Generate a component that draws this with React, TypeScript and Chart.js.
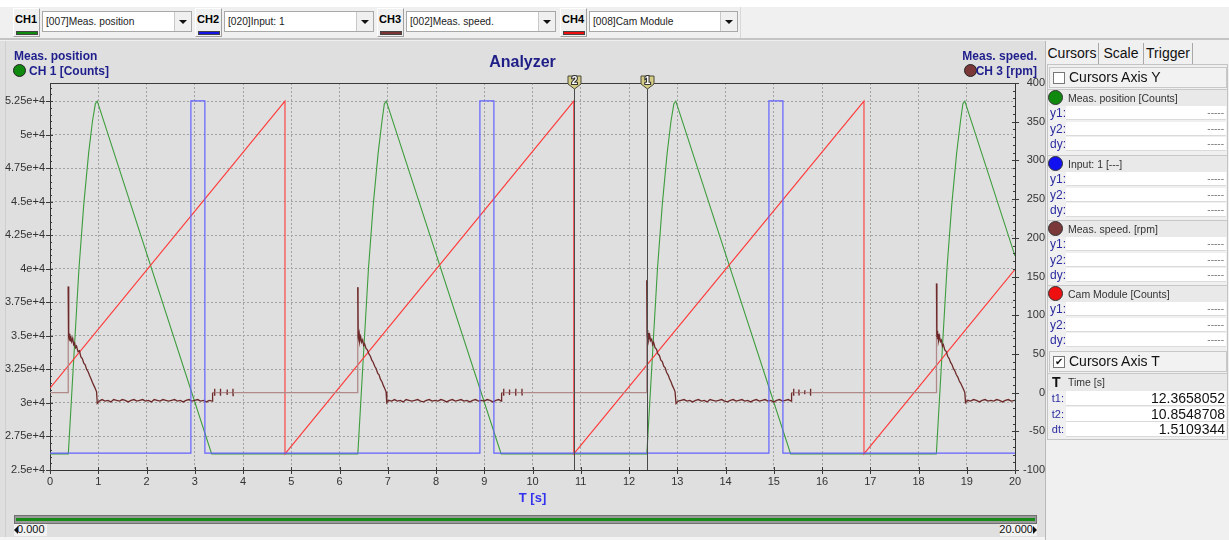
import React, { useEffect, useRef } from 'react';
import { Chart, registerables } from 'chart.js';
Chart.register(...registerables);

const FONT = '"Liberation Sans", Arial, Helvetica, sans-serif';

// ---------- axes / ticks ----------
const xTicks = [0, 1, 2, 3, 4, 5, 6, 7, 8, 9, 10, 11, 12, 13, 14, 15, 16, 17, 18, 19, 20];
const xTickLabels = ['0', '1', '2', '3', '4', '5', '6', '7', '8', '9', '10', '11', '12', '13', '14', '15', '16', '17', '18', '19', '20'];
const leftTicks = [25000, 27500, 30000, 32500, 35000, 37500, 40000, 42500, 45000, 47500, 50000, 52500];
const leftTickLabels = ['2.5e+4', '2.75e+4', '3e+4', '3.25e+4', '3.5e+4', '3.75e+4', '4e+4', '4.25e+4', '4.5e+4', '4.75e+4', '5e+4', '5.25e+4'];
const rightTicks = [-100, -50, 0, 50, 100, 150, 200, 250, 300, 350, 400];
const rightTickLabels = ['-100', '-50', '0', '50', '100', '150', '200', '250', '300', '350', '400'];
const leftRange = [25000, 53850];
const rightRange = [-100, 400];
const inputRange = [-0.048, 1.051];

// ---------- CH1 Meas. position [Counts] ----------
const positionPoints: [number, number][] = [
  [0, 26200], [0.38, 26200], [0.5, 33800], [0.6, 40000], [0.7, 44800], [0.8, 48600], [0.88, 51000], [0.94, 52300], [0.98, 52500], [3.35, 26200],
  [6.38, 26200], [6.5, 33800], [6.6, 40000], [6.7, 44800], [6.8, 48600], [6.88, 51000], [6.93, 52300], [6.97, 52500], [9.35, 26200],
  [12.37, 26200], [12.49, 33800], [12.59, 40000], [12.69, 44800], [12.79, 48600], [12.87, 51000], [12.93, 52300], [12.97, 52500], [15.35, 26200],
  [18.37, 26200], [18.49, 33800], [18.59, 40000], [18.69, 44800], [18.79, 48600], [18.87, 51000], [18.92, 52300], [18.96, 52500], [20, 40960],
];

// ---------- CH2 Input: 1 [---] ----------
const inputPoints: [number, number][] = [
  [0, 0], [2.92, 0], [2.92, 1], [3.21, 1], [3.21, 0],
  [8.91, 0], [8.91, 1], [9.2, 1], [9.2, 0],
  [14.9, 0], [14.9, 1], [15.19, 1], [15.19, 0], [20, 0],
];

// ---------- CH3 Meas. speed [rpm] ----------
const speedCycle1: [number, number][] = [
  [0, 0], [0.375, 0], [0.378, 137], [0.383, 112], [0.387, 70], [0.393, 79], [0.4, 68], [0.41, 76], [0.42, 67], [0.43, 73], [0.45, 66], [0.47, 70], [0.49, 62], [0.51, 64], [0.53, 58], [0.55, 60], [0.58, 53], [0.61, 54], [0.64, 46], [0.67, 44], [0.7, 38], [0.73, 36], [0.76, 30], [0.79, 27], [0.82, 22], [0.85, 18], [0.88, 13], [0.91, 9], [0.94, 5], [0.965, 1], [0.98, -14],
  [1.02, -11], [1.08, -9], [1.14, -11], [1.2, -10], [1.26, -12], [1.32, -9], [1.38, -10], [1.44, -11], [1.5, -9], [1.56, -10], [1.62, -12], [1.68, -10], [1.74, -9], [1.8, -11], [1.86, -10], [1.92, -9], [1.98, -11], [2.04, -10], [2.1, -12], [2.16, -9], [2.22, -10], [2.28, -11], [2.34, -9], [2.4, -10], [2.46, -11], [2.52, -10], [2.58, -9], [2.64, -11], [2.7, -10], [2.76, -12], [2.82, -10], [2.88, -9], [2.94, -11], [3.0, -10], [3.06, -9], [3.12, -11], [3.18, -10], [3.24, -12], [3.3, -10], [3.36, -11],
  [3.37, 0], [3.41, 0], [3.412, 5], [3.414, -4], [3.416, 0], [3.53, 0], [3.532, 5], [3.534, -4], [3.536, 0], [3.67, 0], [3.672, 4], [3.674, -3], [3.676, 0], [3.79, 0], [3.792, 5], [3.794, -4], [3.796, 0],
];
const speedCycle2: [number, number][] = [
  [6.375, 0], [6.378, 136], [6.383, 108], [6.388, 71], [6.394, 80], [6.4, 69], [6.41, 75], [6.42, 66], [6.44, 72], [6.46, 65], [6.48, 68], [6.5, 61], [6.52, 63], [6.55, 57], [6.58, 55], [6.61, 50], [6.64, 47], [6.67, 42], [6.7, 39], [6.73, 34], [6.76, 31], [6.79, 25], [6.82, 23], [6.85, 17], [6.88, 14], [6.91, 9], [6.94, 5], [6.965, 1], [6.98, -13],
  [7.02, -10], [7.08, -11], [7.14, -9], [7.2, -11], [7.26, -10], [7.32, -12], [7.38, -9], [7.44, -10], [7.5, -11], [7.56, -10], [7.62, -9], [7.68, -11], [7.74, -12], [7.8, -10], [7.86, -9], [7.92, -11], [7.98, -10], [8.04, -11], [8.1, -9], [8.16, -10], [8.22, -12], [8.28, -10], [8.34, -9], [8.4, -11], [8.46, -10], [8.52, -9], [8.58, -11], [8.64, -10], [8.7, -12], [8.76, -10], [8.82, -9], [8.88, -11], [8.94, -10], [9.0, -11], [9.06, -9], [9.12, -10], [9.18, -12], [9.24, -10], [9.3, -9], [9.35, -11],
  [9.36, 0], [9.4, 0], [9.402, 5], [9.404, -4], [9.406, 0], [9.52, 0], [9.522, 4], [9.524, -3], [9.526, 0], [9.65, 0], [9.652, 5], [9.654, -4], [9.656, 0], [9.78, 0], [9.782, 5], [9.784, -3], [9.786, 0],
];
const speedCycle3: [number, number][] = [
  [12.365, 0], [12.368, 145], [12.373, 115], [12.378, 73], [12.384, 81], [12.39, 70], [12.4, 77], [12.41, 68], [12.43, 74], [12.45, 67], [12.47, 69], [12.49, 62], [12.51, 65], [12.54, 58], [12.57, 56], [12.6, 50], [12.63, 48], [12.66, 42], [12.69, 40], [12.72, 34], [12.75, 32], [12.78, 26], [12.81, 23], [12.84, 18], [12.87, 14], [12.9, 9], [12.93, 5], [12.955, 1], [12.975, -14],
  [13.02, -11], [13.08, -10], [13.14, -9], [13.2, -11], [13.26, -10], [13.32, -12], [13.38, -10], [13.44, -9], [13.5, -11], [13.56, -10], [13.62, -12], [13.68, -9], [13.74, -10], [13.8, -11], [13.86, -10], [13.92, -9], [13.98, -11], [14.04, -12], [14.1, -10], [14.16, -9], [14.22, -11], [14.28, -10], [14.34, -9], [14.4, -11], [14.46, -10], [14.52, -12], [14.58, -10], [14.64, -9], [14.7, -11], [14.76, -10], [14.82, -9], [14.88, -11], [14.94, -10], [15.0, -12], [15.06, -10], [15.12, -9], [15.18, -11], [15.24, -10], [15.3, -9], [15.36, -11],
  [15.37, 0], [15.41, 0], [15.412, 5], [15.414, -4], [15.416, 0], [15.52, 0], [15.522, 4], [15.524, -3], [15.526, 0], [15.64, 0], [15.642, 3], [15.644, -2], [15.646, 0], [15.76, 0], [15.762, 5], [15.764, -4], [15.766, 0],
];
const speedCycle4: [number, number][] = [
  [18.37, 0], [18.373, 141], [18.378, 113], [18.383, 72], [18.389, 80], [18.395, 69], [18.405, 76], [18.415, 67], [18.435, 73], [18.455, 66], [18.475, 68], [18.495, 60], [18.515, 62], [18.545, 55], [18.575, 53], [18.605, 47], [18.635, 44], [18.665, 39], [18.695, 36], [18.725, 31], [18.755, 28], [18.785, 23], [18.815, 20], [18.845, 15], [18.875, 12], [18.905, 8], [18.935, 4], [18.96, 0], [18.975, -13],
  [19.02, -10], [19.08, -11], [19.14, -9], [19.2, -10], [19.26, -12], [19.32, -10], [19.38, -9], [19.44, -11], [19.5, -10], [19.56, -11], [19.62, -9], [19.68, -10], [19.74, -12], [19.8, -10], [19.86, -9], [19.92, -11], [20, -10],
];

// ---------- CH4 Cam Module [Counts] ----------
const camPoints: [number, number][] = [
  [0, 31100], [4.87, 52500], [4.87, 26200], [10.855, 52500], [10.855, 26200], [16.87, 52500], [16.87, 26200], [20, 39950],
];

// ---------- cursors ----------
const cursorT1 = 12.3658052;
const cursorT2 = 10.8548708;
const cursorDt = 1.5109344;

const COLORS = {
  green: '#3d9d3d',
  blue: '#6262ff',
  brown: '#6e2a2a',
  brownLight: '#b08a8a',
  red: '#ff3a3a',
  bg: '#dfdfdf',
};

const toXY = (pts: [number, number][]) => pts.map(([x, y]) => ({ x, y }));

const decorPlugin = {
  id: 'analyzerDecor',
  afterDraw(chart: any) {
    const { ctx, chartArea: a, scales } = chart;
    const sx = scales.x;
    const sl = scales.yLeft;
    const sr = scales.yRight;
    const line = (x1: number, y1: number, x2: number, y2: number) => {
      ctx.beginPath();
      ctx.moveTo(x1, y1);
      ctx.lineTo(x2, y2);
      ctx.stroke();
    };
    ctx.save();
    ctx.lineWidth = 1;
    ctx.strokeStyle = '#3a3a3a';
    line(a.left, Math.round(a.top) + 0.5, a.right, Math.round(a.top) + 0.5);
    leftTicks.forEach((v) => {
      const y = Math.round(sl.getPixelForValue(v)) + 0.5;
      line(a.left - 4, y, a.left + 3, y);
    });
    for (let v = leftRange[0]; v <= leftRange[1]; v += 500) {
      if (v % 2500 === 0) continue;
      const y = Math.round(sl.getPixelForValue(v)) + 0.5;
      line(a.left, y, a.left + 2, y);
    }
    rightTicks.forEach((v) => {
      const y = Math.round(sr.getPixelForValue(v)) + 0.5;
      line(a.right - 3, y, a.right + 4, y);
    });
    for (let v = rightRange[0]; v <= rightRange[1]; v += 10) {
      if (v % 50 === 0) continue;
      const y = Math.round(sr.getPixelForValue(v)) + 0.5;
      line(a.right - 2, y, a.right, y);
    }
    xTicks.forEach((v) => {
      const x = Math.round(sx.getPixelForValue(v)) + 0.5;
      line(x, a.bottom - 3, x, a.bottom + 4);
    });
    const cursors: [number, string][] = [[cursorT2, '2'], [cursorT1, '1']];
    cursors.forEach(([t, lab]) => {
      const x = Math.round(sx.getPixelForValue(t)) + 0.5;
      ctx.strokeStyle = '#4a4a4a';
      line(x, a.top, x, a.bottom);
      const top = a.top - 7;
      ctx.beginPath();
      ctx.moveTo(x - 6.5, top);
      ctx.lineTo(x + 6.5, top);
      ctx.lineTo(x + 6.5, top + 8);
      ctx.lineTo(x, top + 13);
      ctx.lineTo(x - 6.5, top + 8);
      ctx.closePath();
      ctx.fillStyle = '#d4cc84';
      ctx.fill();
      ctx.strokeStyle = '#4a4a3a';
      ctx.stroke();
      ctx.font = `bold 10px ${FONT}`;
      ctx.textAlign = 'center';
      ctx.textBaseline = 'middle';
      ctx.lineWidth = 2.2;
      ctx.strokeStyle = '#333';
      ctx.strokeText(lab, x, top + 5.5);
      ctx.fillStyle = '#ffffff';
      ctx.fillText(lab, x, top + 5.5);
      ctx.lineWidth = 1;
    });
    ctx.restore();
  },
};

function ChannelSelect(props: { left: number; label: string; color: string; comboLeft: number; comboWidth: number; text: string }) {
  const { left, label, color, comboLeft, comboWidth, text } = props;
  return (
    <>
      <div style={{ position: 'absolute', left, top: 8, width: 27, height: 29, boxSizing: 'border-box', borderTop: '1px solid #ffffff', borderLeft: '1px solid #ffffff', borderRight: '1px solid #a0a0a0', borderBottom: '1px solid #a0a0a0', background: '#f0f0f0' }}>
        <div style={{ position: 'absolute', left: 1, top: 4, fontSize: 11, fontWeight: 'bold', color: '#000', lineHeight: '13px' }}>{label}</div>
        <div style={{ position: 'absolute', left: 2, top: 22, width: 22, height: 4, boxSizing: 'border-box', background: color, border: '1px solid #444' }} />
      </div>
      <div style={{ position: 'absolute', left: comboLeft, top: 11, width: comboWidth, height: 21, boxSizing: 'border-box', background: '#fff', border: '1px solid #a8a8a8' }}>
        <div style={{ position: 'absolute', left: 3, top: 0, fontSize: 10.2, lineHeight: '19px', color: '#222', whiteSpace: 'nowrap' }}>{text}</div>
        <div style={{ position: 'absolute', right: 0, top: 0, width: 17, height: 19, boxSizing: 'border-box', background: '#f0f0f0', borderLeft: '1px solid #c8c8c8' }}>
          <div style={{ position: 'absolute', left: 4, top: 8, width: 0, height: 0, borderLeft: '4px solid transparent', borderRight: '4px solid transparent', borderTop: '4px solid #111' }} />
        </div>
      </div>
    </>
  );
}

function ChannelGroup(props: { top: number; color: string; title: string }) {
  const { top, color, title } = props;
  const rows = ['y1:', 'y2:', 'dy:'];
  return (
    <>
      <div style={{ position: 'absolute', left: 1048, top, width: 179, height: 16, background: '#e9e9e9', borderTop: '1px solid #c8c8c8' }}>
        <div style={{ position: 'absolute', left: 0, top: 0, width: 15, height: 15, borderRadius: '50%', background: color, border: '1px solid #333', boxSizing: 'border-box' }} />
        <div style={{ position: 'absolute', left: 20, top: 1, fontSize: 10.5, lineHeight: '14px', color: '#333', whiteSpace: 'nowrap' }}>{title}</div>
      </div>
      {rows.map((r, i) => (
        <React.Fragment key={r}>
          <div style={{ position: 'absolute', left: 1050, top: top + 17 + i * 15.5, fontSize: 12, lineHeight: '15px', color: '#2b2ba0' }}>{r}</div>
          <div style={{ position: 'absolute', left: 1066, top: top + 17 + i * 15.5, width: 160, height: 14, background: '#fff', borderBottom: '1px solid #dadada', boxSizing: 'border-box' }}>
            <div style={{ position: 'absolute', right: 2, top: 0, fontSize: 10, lineHeight: '13px', color: '#777' }}>-----</div>
          </div>
        </React.Fragment>
      ))}
    </>
  );
}

export default function App() {
  const ref = useRef<HTMLCanvasElement>(null);

  useEffect(() => {
    if (!ref.current) return;
    const tickFont = { family: FONT, size: 11 };
    const chart = new Chart(ref.current, {
      type: 'line',
      data: {
        datasets: [
          {
            label: 'Input: 1',
            data: toXY(inputPoints),
            yAxisID: 'yInput',
            borderColor: COLORS.blue,
            borderWidth: 1.2,
            pointRadius: 0,
            order: 0,
          },
          {
            label: 'Meas. speed.',
            data: toXY([...speedCycle1, ...speedCycle2, ...speedCycle3, ...speedCycle4]),
            yAxisID: 'yRight',
            borderColor: COLORS.brown,
            borderWidth: 1.3,
            pointRadius: 0,
            order: 1,
            segment: {
              borderColor: (c: any) =>
                c.p0.parsed.y === 0 && (c.p1.parsed.y === 0 || c.p1.parsed.y > 100) ? COLORS.brownLight : COLORS.brown,
            },
          } as any,
          {
            label: 'Cam Module',
            data: toXY(camPoints),
            yAxisID: 'yLeft',
            borderColor: COLORS.red,
            borderWidth: 1.1,
            pointRadius: 0,
            order: 2,
          },
          {
            label: 'Meas. position',
            data: toXY(positionPoints),
            yAxisID: 'yLeft',
            borderColor: COLORS.green,
            borderWidth: 1.1,
            pointRadius: 0,
            order: 3,
          },
        ],
      },
      options: {
        animation: false,
        responsive: false,
        devicePixelRatio: 1,
        events: [],
        layout: { padding: 0 },
        plugins: {
          legend: { display: false },
          tooltip: { enabled: false },
          title: {
            display: true,
            text: 'Analyzer',
            color: '#1e1e86',
            font: { family: FONT, size: 16, weight: 'bold', lineHeight: 1.2 },
            padding: { top: 12.4, bottom: 10.4 },
          },
        },
        scales: {
          x: {
            type: 'linear',
            min: xTicks[0],
            max: xTicks[xTicks.length - 1],
            afterBuildTicks: (s: any) => { s.ticks = xTicks.map((v) => ({ value: v })); },
            afterFit: (s: any) => { s.height = 40; },
            ticks: {
              font: tickFont,
              color: '#333',
              padding: 5,
              maxRotation: 0,
              autoSkip: false,
              callback: (v: any) => { const i = xTicks.indexOf(Number(v)); return i >= 0 ? xTickLabels[i] : ''; },
            },
            grid: { color: '#a2a2a2', lineWidth: 1, drawTicks: false },
            border: { display: true, color: '#333', width: 1, dash: [2, 2] },
            title: {
              display: true,
              text: 'T [s]',
              color: '#3333ee',
              font: { family: FONT, size: 13, weight: 'bold', lineHeight: 1.2 },
              padding: { top: 0, bottom: 4 },
            },
          },
          yLeft: {
            type: 'linear',
            position: 'left',
            min: leftRange[0],
            max: leftRange[1],
            afterBuildTicks: (s: any) => { s.ticks = leftTicks.map((v) => ({ value: v })); },
            afterFit: (s: any) => { s.width = 50; },
            ticks: {
              font: tickFont,
              color: '#333',
              padding: 5,
              crossAlign: 'near',
              callback: (v: any) => { const i = leftTicks.indexOf(Number(v)); return i >= 0 ? leftTickLabels[i] : ''; },
            },
            grid: { color: '#a2a2a2', lineWidth: 1, drawTicks: false },
            border: { display: true, color: '#333', width: 1, dash: [2, 2] },
          },
          yRight: {
            type: 'linear',
            position: 'right',
            min: rightRange[0],
            max: rightRange[1],
            afterBuildTicks: (s: any) => { s.ticks = rightTicks.map((v) => ({ value: v })); },
            afterFit: (s: any) => { s.width = 30; },
            ticks: {
              font: tickFont,
              color: '#333',
              padding: 4,
              crossAlign: 'far',
              callback: (v: any) => { const i = rightTicks.indexOf(Number(v)); return i >= 0 ? rightTickLabels[i] : ''; },
            },
            grid: { drawOnChartArea: false, drawTicks: false },
            border: { display: true, color: '#333', width: 1 },
          },
          yInput: {
            type: 'linear',
            display: false,
            min: inputRange[0],
            max: inputRange[1],
          },
        },
      } as any,
      plugins: [decorPlugin],
    });
    return () => chart.destroy();
  }, []);

  const tabStyle = (left: number, width: number): React.CSSProperties => ({
    position: 'absolute', left, top: 43, width, height: 21, boxSizing: 'border-box', borderRight: '1px solid #a8a8a8', fontSize: 14, lineHeight: '20px', color: '#111', textAlign: 'center',
  });

  return (
    <div style={{ position: 'absolute', left: 0, top: 0, width: 1229, height: 540, overflow: 'hidden', background: COLORS.bg, fontFamily: FONT }}>
      <div style={{ position: 'absolute', left: 0, top: 0, width: 1229, height: 7, background: '#ffffff' }} />
      <div style={{ position: 'absolute', left: 0, top: 7, width: 1229, height: 31, background: '#f0f0f0' }} />
      <div style={{ position: 'absolute', left: 740, top: 7, width: 1, height: 31, background: '#d8d8d8' }} />
      <div style={{ position: 'absolute', left: 0, top: 38, width: 1229, height: 2, background: '#c4c4c4' }} />
      <div style={{ position: 'absolute', left: 0, top: 40, width: 1229, height: 1, background: '#efefef' }} />
      <ChannelSelect left={13} label="CH1" color="#0f8a0f" comboLeft={42} comboWidth={150} text="[007]Meas. position" />
      <ChannelSelect left={195} label="CH2" color="#1414e6" comboLeft={224} comboWidth={150} text="[020]Input: 1" />
      <ChannelSelect left={377} label="CH3" color="#7a3434" comboLeft={406} comboWidth={150} text="[002]Meas. speed." />
      <ChannelSelect left={560} label="CH4" color="#ee1010" comboLeft={589} comboWidth={149} text="[008]Cam Module" />

      <div style={{ position: 'absolute', left: 5, top: 41, width: 1, height: 496, background: '#cfcfcf' }} />

      <canvas ref={ref} width={1045} height={469} style={{ position: 'absolute', left: 0, top: 41, width: 1045, height: 469 }} />

      <div style={{ position: 'absolute', left: 14, top: 49, fontSize: 12, fontWeight: 'bold', color: '#1e1e8c', lineHeight: '14px', whiteSpace: 'nowrap' }}>Meas. position</div>
      <div style={{ position: 'absolute', left: 13, top: 64, width: 13, height: 13, borderRadius: '50%', background: '#0f8a0f', border: '1px solid #222', boxSizing: 'border-box' }} />
      <div style={{ position: 'absolute', left: 29, top: 64, fontSize: 12, fontWeight: 'bold', color: '#1e1e8c', lineHeight: '14px', whiteSpace: 'nowrap' }}>CH 1 [Counts]</div>
      <div style={{ position: 'absolute', right: 1229 - 1037, top: 49, fontSize: 12, fontWeight: 'bold', color: '#1e1e8c', lineHeight: '14px', whiteSpace: 'nowrap', textAlign: 'right' }}>Meas. speed.</div>
      <div style={{ position: 'absolute', left: 964, top: 64, width: 13, height: 13, borderRadius: '50%', background: '#7a3838', border: '1px solid #222', boxSizing: 'border-box' }} />
      <div style={{ position: 'absolute', right: 1229 - 1037, top: 64, fontSize: 12, fontWeight: 'bold', color: '#1e1e8c', lineHeight: '14px', whiteSpace: 'nowrap', textAlign: 'right' }}>CH 3 [rpm]</div>

      <div style={{ position: 'absolute', left: 14, top: 515, width: 1023, height: 9, boxSizing: 'border-box', background: '#9a9a9a', border: '1px solid #707070' }}>
        <div style={{ position: 'absolute', left: 1, top: 2, right: 1, height: 3, background: '#178a17' }} />
      </div>
      <div style={{ position: 'absolute', left: 14, top: 524, width: 33, height: 12, background: '#f2f2f2' }} />
      <div style={{ position: 'absolute', left: 14, top: 526, width: 0, height: 0, borderTop: '4px solid transparent', borderBottom: '4px solid transparent', borderRight: '4px solid #111' }} />
      <div style={{ position: 'absolute', left: 17, top: 523, fontSize: 11, lineHeight: '13px', color: '#111' }}>0.000</div>
      <div style={{ position: 'absolute', left: 1000, top: 524, width: 37, height: 12, background: '#f2f2f2' }} />
      <div style={{ position: 'absolute', right: 1229 - 1033, top: 523, fontSize: 11, lineHeight: '13px', color: '#111' }}>20.000</div>
      <div style={{ position: 'absolute', left: 1033, top: 526, width: 0, height: 0, borderTop: '4px solid transparent', borderBottom: '4px solid transparent', borderLeft: '4px solid #111' }} />
      <div style={{ position: 'absolute', left: 0, top: 537, width: 1045, height: 3, background: '#f4f4f4' }} />

      <div style={{ position: 'absolute', left: 1045, top: 41, width: 184, height: 499, background: '#f0f0f0', borderLeft: '1px solid #b8b8b8', boxSizing: 'border-box' }} />
      <div style={tabStyle(1046, 53)}>Cursors</div>
      <div style={tabStyle(1099, 45)}>Scale</div>
      <div style={tabStyle(1144, 49)}>Trigger</div>
      <div style={{ position: 'absolute', left: 1047, top: 64, width: 181, height: 376, boxSizing: 'border-box', border: '1px solid #c4c4c4', background: '#f0f0f0' }} />

      <div style={{ position: 'absolute', left: 1049, top: 67, width: 178, height: 21, boxSizing: 'border-box', border: '1px solid #c8c8c8', background: '#f2f2f2' }}>
        <div style={{ position: 'absolute', left: 3, top: 4, width: 12, height: 12, boxSizing: 'border-box', background: '#fff', border: '1px solid #777' }} />
        <div style={{ position: 'absolute', left: 19, top: 1, fontSize: 14, lineHeight: '17px', color: '#111', whiteSpace: 'nowrap' }}>Cursors Axis Y</div>
      </div>

      <ChannelGroup top={89} color="#0f8a0f" title="Meas. position [Counts]" />
      <ChannelGroup top={155} color="#1010f0" title="Input: 1 [---]" />
      <ChannelGroup top={220} color="#7a3838" title="Meas. speed. [rpm]" />
      <ChannelGroup top={285} color="#ee1010" title="Cam Module [Counts]" />

      <div style={{ position: 'absolute', left: 1049, top: 351, width: 178, height: 21, boxSizing: 'border-box', border: '1px solid #c8c8c8', background: '#f2f2f2' }}>
        <div style={{ position: 'absolute', left: 3, top: 4, width: 12, height: 12, boxSizing: 'border-box', background: '#fff', border: '1px solid #777', fontSize: 10, lineHeight: '10px', textAlign: 'center', color: '#111' }}>✔</div>
        <div style={{ position: 'absolute', left: 19, top: 1, fontSize: 14, lineHeight: '17px', color: '#111', whiteSpace: 'nowrap' }}>Cursors Axis T</div>
      </div>
      <div style={{ position: 'absolute', left: 1048, top: 373, width: 179, height: 17, background: '#e9e9e9', borderTop: '1px solid #c8c8c8' }}>
        <div style={{ position: 'absolute', left: 4, top: 0, fontSize: 14, fontWeight: 'bold', lineHeight: '16px', color: '#111' }}>T</div>
        <div style={{ position: 'absolute', left: 20, top: 1, fontSize: 10.5, lineHeight: '14px', color: '#333' }}>Time [s]</div>
      </div>
      {[['t1:', cursorT1.toFixed(7)], ['t2:', cursorT2.toFixed(7)], ['dt:', cursorDt.toFixed(7)]].map(([lab, val], i) => (
        <React.Fragment key={lab}>
          <div style={{ position: 'absolute', left: 1048, width: 16, textAlign: 'right', top: 391 + i * 15.5, fontSize: 11, lineHeight: '15px', color: '#2b2ba0' }}>{lab}</div>
          <div style={{ position: 'absolute', left: 1066, top: 391 + i * 15.5, width: 160, height: 15, background: '#fff', borderBottom: '1px solid #dadada', boxSizing: 'border-box' }}>
            <div style={{ position: 'absolute', right: 1, top: 0, fontSize: 14, lineHeight: '15px', color: '#111' }}>{val}</div>
          </div>
        </React.Fragment>
      ))}
    </div>
  );
}
